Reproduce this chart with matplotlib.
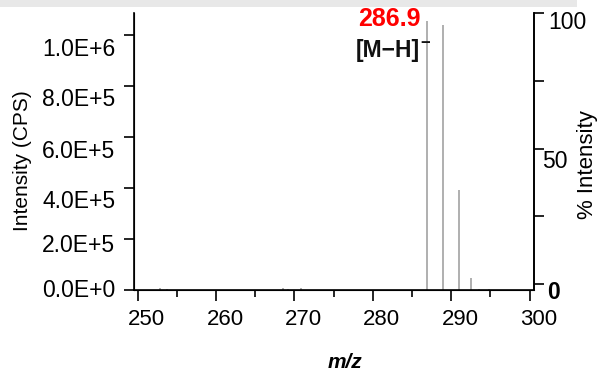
import matplotlib
matplotlib.use("Agg")
import matplotlib.pyplot as plt
from matplotlib.patches import Rectangle
from matplotlib.ticker import MultipleLocator, FixedLocator
from matplotlib.transforms import ScaledTranslation

plt.rcParams['font.family'] = ['Liberation Sans', 'DejaVu Sans']

# data
mz = [252.8, 253.8, 268.5, 269.2, 270.9, 286.9, 288.9, 291.0, 292.5, 293.5, 294.8]
intensity = [6e3, 5e3, 6e3, 4e3, 7e3, 1.056e6, 1.039e6, 3.92e5, 4.7e4, 5e3, 4e3]
left_ticks = [0, 2e5, 4e5, 6e5, 8e5, 1e6]
left_labels = ['0.0E+0', '2.0E+5', '4.0E+5', '6.0E+5', '8.0E+5', '1.0E+6']
x_ticks = [250, 260, 270, 280, 290, 300]
right_ticks = [0, 50, 100]
right_labels = ['0', '50', '100']
peak_label = '286.9'
ion_label = '[M\u2212H]'

W, H = 599, 372
fig = plt.figure(figsize=(W / 100, H / 100), dpi=100)
fig.patches.append(Rectangle((0, 1 - 7 / H), 577 / W, 7 / H, transform=fig.transFigure,
                             facecolor='#e8e8e8', edgecolor='none', zorder=0))

ax = fig.add_axes([134 / W, 1 - 290 / H, 400 / W, 277 / H])
ax.vlines(mz, 0, intensity, colors='#9a9a9a', linewidth=1.1)
ax.set_xlim(249.54, 300.56)
ax.set_ylim(0, 1.0863e6)

ax.spines['top'].set_visible(False)
for s in ['left', 'bottom', 'right']:
    ax.spines[s].set_linewidth(1.2)

ax.set_yticks(left_ticks)
ax.set_yticklabels(left_labels)
ax.set_xticks(x_ticks)
ax.xaxis.set_minor_locator(MultipleLocator(5))
ax.tick_params(axis='y', which='major', length=7, width=1.2, labelsize=16.5, pad=6.5, direction='out')
ax.tick_params(axis='x', which='major', length=8, width=1.2, labelsize=16, pad=5.5, direction='out')
ax.tick_params(axis='x', which='minor', length=5, width=1.2, direction='out')

# label offsets (pixels) as seen in the reference
left_dy = [-2, 4, 11, 12, 11, 12]
for lab, dy in zip(ax.get_yticklabels(), left_dy):
    lab.set_transform(lab.get_transform() + ScaledTranslation(0, -dy / 100, fig.dpi_scale_trans))
for lab in ax.get_xticklabels():
    lab.set_transform(lab.get_transform() + ScaledTranslation(9 / 100, 0, fig.dpi_scale_trans))

ax2 = ax.twinx()
ax2.set_ylim(-2.2, 100)
ax2.spines['top'].set_visible(False)
ax2.spines['right'].set_linewidth(1.2)
ax2.set_yticks(right_ticks)
ax2.set_yticklabels(right_labels)
ax2.yaxis.set_minor_locator(FixedLocator([25, 75]))
ax2.tick_params(axis='y', which='major', length=7, width=1.2, labelsize=16.5, pad=3)
ax2.tick_params(axis='y', which='minor', length=7, width=1.2)
rlabs = ax2.get_yticklabels()
rlabs[0].set_fontweight('bold')
right_dxy = [(-1, 6), (-6, 10), (0, 7)]
for lab, (dx, dy) in zip(rlabs, right_dxy):
    lab.set_transform(lab.get_transform() + ScaledTranslation(dx / 100, -dy / 100, fig.dpi_scale_trans))

ax.text(286.05, 1.062e6, peak_label, color='#ff0000', fontsize=18, fontweight='bold',
        ha='right', va='center')
ax.text(286.05, 9.41e5, ion_label, color='#111111', fontsize=16.5, fontweight='bold',
        ha='right', va='center')
ax.text(286.1, 9.68e5, '\u2212', color='#111111', fontsize=12, fontweight='bold',
        ha='left', va='center')

fig.text(22.5 / W, 1 - 161 / H, 'Intensity (CPS)', rotation=90, fontsize=15,
         ha='center', va='center')
fig.text(587 / W, 1 - 165 / H, '% Intensity', rotation=90, fontsize=16,
         ha='center', va='center')
fig.text(345 / W, 1 - 362 / H, 'm/z', fontsize=15, fontweight='bold', fontstyle='italic',
         ha='center', va='center')

fig.savefig('out.png', dpi=100)
